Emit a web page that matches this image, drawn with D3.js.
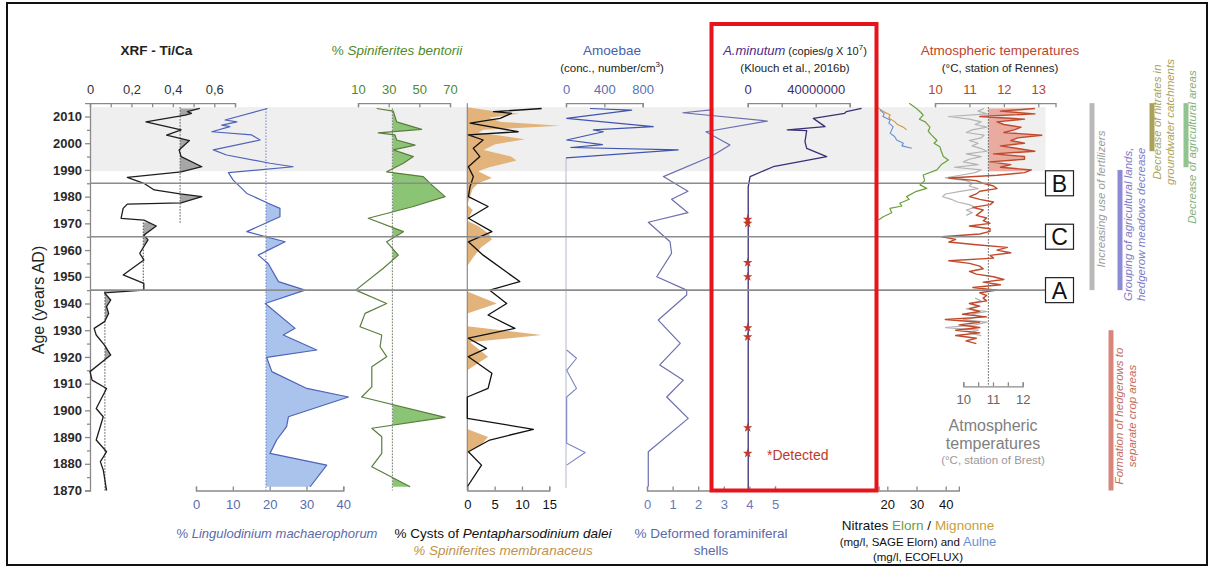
<!DOCTYPE html>
<html><head><meta charset="utf-8">
<script src="https://cdn.jsdelivr.net/npm/d3@7"></script>
<style>
body{margin:0;background:#fff;}
svg{display:block;font-family:"Liberation Sans",Arial,sans-serif;}
</style></head><body>
<svg id="chart" width="1214" height="570"></svg>
<script>
// ---- Data: [year AD, value] ----
const xrfTiCa = [[2013,0.53],[2011.8,0.47],[2011.2,0.49],[2010.5,0.46],[2008,0.27],[2005,0.44],[2003,0.37],[2001,0.48],[1997.5,0.43],[1995,0.44],[1991.2,0.54],[1989.3,0.44],[1987.2,0.18],[1985,0.26],[1982.5,0.31],[1981,0.435],[1980,0.54],[1977.7,0.44],[1977.2,0.18],[1975.6,0.16],[1971.9,0.15],[1971.2,0.26],[1969,0.32],[1965.6,0.26],[1963.8,0.28],[1958.8,0.24],[1956.3,0.26],[1950.7,0.16],[1947.5,0.26],[1945,0.26],[1944,0.07],[1941.3,0.1],[1938.8,0.08],[1936.3,0.09],[1933.2,0.07],[1930.7,0.02],[1928.2,0.03],[1924.4,0.07],[1920.7,0.1],[1914.5,0],[1911.3,0.01],[1908.2,0.08],[1900.7,0.03],[1897.6,0.064],[1888.9,0.03],[1884.5,0.08],[1880.8,0.05],[1877.7,0.064],[1870,0.08]];
// reference levels of the Ti/Ca record: [top year, bottom year, level]
const xrfRefs = [[2013.5,1969.8,0.435],[1970.3,1945,0.257],[1944.6,1870,0.072]];

const lingulodinium = [[2013,19.4],[2008.7,7.9],[2008,11.1],[2006.8,7],[2006.2,9.2],[2004.3,4.3],[2003.1,15.1],[2001.2,17.4],[1997.5,4.7],[1995.6,8.3],[1992.5,20.1],[1991.2,26.4],[1989,8.8],[1986.2,10.1],[1981.2,13.8],[1977.5,19.6],[1975.6,22.8],[1972.5,22.8],[1966.9,13.8],[1963.1,24.2],[1958.1,16.9],[1955,19.6],[1948.2,22.4],[1945,29.6],[1940,18.8],[1930.7,26.9],[1928.2,23.7],[1922.6,32.8],[1919.8,19.2],[1914.5,20.6],[1908.2,30.1],[1905,41.4],[1897.6,25.1],[1893.9,24.6],[1888.9,21.9],[1883.9,20.1],[1879.5,35.5],[1871.4,31]];
const lingulodiniumRef = 19;

const spinBentorii = [[2013,22.2],[2012,33],[2008,35.2],[2005.2,51.5],[2003.9,23.2],[2003.1,34.1],[2001.2,35.2],[1999.3,47.2],[1997.5,33],[1995,46.1],[1992.5,39.6],[1989.3,28.7],[1987.5,52.6],[1984.4,58.1],[1980,66.8],[1976.3,46.1],[1971.9,16.7],[1966.9,39.6],[1963.1,28.7],[1958.1,36.3],[1953.2,26.5],[1945,8.5],[1940,28.7],[1936.3,14.6],[1931.3,11.3],[1928.2,25.5],[1923.8,24.4],[1920.1,28.7],[1916.3,19],[1908.8,19],[1905,12.4],[1897.4,66.8],[1893.3,19],[1890.1,25.5],[1883.9,25.5],[1878.9,19],[1871.4,44]];
const spinBentoriiRef = 32.4;

const pentaDalei = [[2013,13.6],[2011.8,4.8],[2011.2,8.1],[2009.3,6],[2007.5,0.5],[2004.3,9.3],[2003.1,0.2],[2001.2,2.9],[1998.1,1.1],[1995,2.3],[1991.2,0.2],[1987.5,1.1],[1983.7,0.5],[1980,0.2],[1976.3,3.8],[1971.9,0.2],[1966.9,4.5],[1963.1,0.2],[1958.1,2.9],[1948.2,9.6],[1945,4.1],[1940,7.2],[1935.7,3.8],[1930.7,8.7],[1927,0.2],[1923.2,3.5],[1920.1,0.2],[1913.9,4.5],[1908.2,3.8],[1905,0],[1897,0],[1892.9,12.1],[1888.9,4.1],[1884.5,0.2],[1879.5,2.6],[1871.4,0]];
const spinMembranaceus = [[2013.5,0],[2013,1.5],[2012,5],[2011,9.5],[2009.5,4],[2008,6],[2006.5,17],[2005,3],[2004,2],[2001.5,10.5],[1999.5,5],[1997.5,3],[1995,8],[1993.5,9],[1991,4],[1989.5,2],[1987,4.5],[1985,2],[1983,1],[1980,0.5],[1977,0],[1975,1],[1973,0.5],[1971,0],[1969,2],[1966,4],[1964,4.5],[1961,2.5],[1957,1],[1954,0],[1944.5,0],[1940,5.4],[1936.3,0],[1931.5,0],[1928.2,13.6],[1925.5,0.5],[1920.1,3.8],[1915,0],[1893,0],[1890,3.8],[1887,2.5],[1884.5,0]];

const amoebae = [[2013,250],[2012.4,685],[2009.3,7],[2006.2,910],[2005,285],[2004.3,390],[2001.2,7],[1999.5,380],[1998.4,50],[1997.5,1170],[1994.5,0]];
const amoebaeOld = [[1922.6,7],[1919.5,110],[1915,7],[1908.2,110],[1905,7],[1887.7,7],[1884.2,200],[1879.5,7]];

const deformedForams = [[2012.6,2.6],[2011.4,1.4],[2008.3,4.7],[2004.3,2.3],[1999.3,3.24],[1995,2.5],[1987.5,0.64],[1982,1.6],[1979,0.96],[1974,1.6],[1970.4,0.05],[1963.1,0.9],[1958.8,0.96],[1950,0.38],[1945,1.55],[1943.2,1.55],[1933.8,0.44],[1925.1,1.3],[1917,0.5],[1911.3,1.42],[1905,0.77],[1897,1.61],[1884.5,0.05],[1871.4,0.05]];

const aMinutum = [[2013,67e6],[2011.8,58e6],[2011.2,57e6],[2009.3,38.6e6],[2006.2,45.5e6],[2005,23.3e6],[2004.7,34.7e6],[2000.6,33.7e6],[1998.1,34.7e6],[1995,46.5e6],[1991.2,15e6],[1987.5,1.4e6],[1983.7,0.3e6],[1870,0.3e6]];
const aMinutumDetected = [1971.5,1970,1955.3,1950,1930.9,1927.5,1893.5,1883.9];

const nitrateElorn = [[2015,27.5],[2013,30],[2011.5,31.5],[2010.5,32.3],[2009,31],[2008,33],[2006,34.6],[2004.5,34],[2003,35.2],[2001,37],[2000,36],[1998.7,38],[1997,38.5],[1995,39.2],[1993.7,40.9],[1992,38.5],[1990,37],[1988.1,32.3],[1986,32.8],[1984.4,31.2],[1983.1,33.5],[1982,30],[1980,26.6],[1979,27.5],[1977.5,24.3],[1976.5,25],[1975.6,20.9],[1974,21.5],[1972.5,18.6],[1971.3,17]];
const nitrateMignonne = [[2013.5,16.5],[2012,18.5],[2010.6,21],[2009.5,20.5],[2008,22.6],[2007,23.5],[2006,25.5],[2005,26.6]];
const nitrateAulne = [[2012.4,17.5],[2011,19],[2010,18.5],[2008.7,21],[2007.5,20.5],[2006.2,22],[2005,21.5],[2003.7,21],[2002.5,22.5],[2001.2,23.2],[2000,25.5],[1999,25],[1998.1,28.4]];

const rennesYears = d3.range(2013, 1924, -1);
const rennesTemp = [12.9,11.9,12.9,11.3,12.6,11.8,12.0,12.5,12.3,12.0,13.1,12.4,12.2,12.6,11.9,12.4,12.9,11.7,12.6,12.6,11.6,12.2,11.9,12.8,12.6,11.8,10.4,11.2,11.4,11.7,11.8,11.3,11.2,11.0,11.3,11.7,11.6,11.1,11.4,11.3,11.2,11.5,11.4,11.6,11.0,11.6,11.6,11.3,10.2,10.6,10.4,11.2,12.1,11.8,12.2,11.6,11.7,10.4,11.0,11.3,11.4,11.0,11.2,11.7,12.0,11.4,11.9,11.1,11.8,11.3,11.5,11.4,11.5,11.0,11.3,11.0,11.3,10.8,11.5,10.3,11.3,10.7,11.3,10.6,11.3,10.6,11.2,10.9,11.2];
const rennesRef = 11.55;
const brestYearsRecent = d3.range(2013, 1972, -1);
const brestTempRecent = [10.7,10.5,10.8,9.5,10.2,10.6,10.4,10.8,10.3,10.1,10.7,10.6,10.2,10.5,10.3,10.6,10.8,10.1,10.6,10.2,10.0,10.5,9.7,10.6,10.4,9.9,9.4,10.1,10.3,10.2,10.5,9.9,9.4,9.3,9.6,9.8,10.2,10.4,10.1,10.3,10.1];
const brestYearsOld = d3.range(1942, 1927, -1);
const brestTempOld = [10.4,10.6,10.2,10.5,10.1,10.8,10.3,10.6,10.0,10.8,10.4,9.4,10.5,10.2,10.6];

const yearTicks = d3.range(1870, 2011, 10);
const eventLines = [["B",1985],["C",1965],["A",1945]];
const recentBand = [2013.5, 1989.5];

// annotation bars: label lines, period covered, colours, text placement
const annotations = [
  {lines:["Increasing use of fertilizers"], top:2015, bottom:1945, bar:"#b9b9b9", text:"#9a9a9a", x:1092, tx:1105, anchor:"middle", ty:199},
  {lines:["Grouping of agricultural lands,","hedgerow meadows decrease"], top:1990, bottom:1945, bar:"#8d8bd6", text:"#7c79c6", x:1120, tx:1132, anchor:"start", ty:301},
  {lines:["Decrease of nitrates in","groundwater catchments"], top:2015, bottom:1997, bar:"#a9a25a", text:"#aaa35a", x:1152, tx:1161, anchor:"middle", ty:122},
  {lines:["Decrease of agricultural areas"], top:2015, bottom:1991, bar:"#90c490", text:"#80b080", x:1186, tx:1196, anchor:"middle", ty:147},
  {lines:["Formation of hedgerows to","separate crop areas"], top:1930, bottom:1870, bar:"#d8857c", text:"#c26c60", x:1111, tx:1123, anchor:"middle", ty:416}
];

// ---- Layout ----
const svg = d3.select("#chart");
const W = 1214, H = 570;
const y = d3.scaleLinear().domain([1870, 2010]).range([490.5, 116.5]);
const axisGrey = "#8a8a8a";

const xXrf = d3.scaleLinear().domain([0, 0.7]).range([90, 235]);
const xLing = d3.scaleLinear().domain([0, 40]).range([196, 343.3]);
const xSpB = d3.scaleLinear().domain([10, 70]).range([358, 450]);
const xPent = d3.scaleLinear().domain([0, 15]).range([467.3, 549.3]);
const xAmo = d3.scaleLinear().domain([0, 800]).range([566, 642.7]);
const xFor = d3.scaleLinear().domain([0, 5]).range([647, 775]);
const xAmin = d3.scaleLinear().domain([0, 60e6]).range([747.7, 849.7]);
const xNit = d3.scaleLinear().domain([20, 40]).range([887.3, 945.7]);
const xRen = d3.scaleLinear().domain([10, 13]).range([935, 1038.3]);
const xBre = d3.scaleLinear().domain([10, 12]).range([963.3, 1022.7]);
const brestAxisYear = 1909;

const defs = svg.append("defs");
const lineOf = xs => d3.line().x(d => xs(d[1])).y(d => y(d[0]));
let clipId = 0;
function fillBeyond(data, xs, ref, yearTop, yearBottom, color) {
  const id = "clip" + (clipId++);
  defs.append("clipPath").attr("id", id).append("rect")
    .attr("x", xs(ref)).attr("y", y(yearTop))
    .attr("width", W).attr("height", y(yearBottom) - y(yearTop));
  svg.append("path").datum(data)
    .attr("d", d3.area().y(d => y(d[0])).x0(xs(ref)).x1(d => xs(d[1])))
    .attr("fill", color).attr("clip-path", `url(#${id})`);
}
function dotted(x, yearTop, yearBottom, color) {
  svg.append("line").attr("x1", x).attr("x2", x)
    .attr("y1", y(yearTop)).attr("y2", y(yearBottom))
    .attr("stroke", color || "#666").attr("stroke-width", 1).attr("stroke-dasharray", "1.5,1.5");
}
function drawLine(data, xs, color, width) {
  svg.append("path").datum(data).attr("d", lineOf(xs))
    .attr("fill", "none").attr("stroke", color).attr("stroke-width", width || 1.2)
    .attr("stroke-linejoin", "round");
}
function styleAxis(g, color) {
  g.select(".domain").attr("stroke", axisGrey).attr("stroke-width", 1.3);
  g.selectAll(".tick line").attr("stroke", axisGrey).attr("stroke-width", 1.3);
  g.selectAll(".tick text").attr("fill", color).attr("font-size", 13).attr("font-family", "Liberation Sans, Arial, sans-serif");
  return g;
}
function text(x, yy, str, opts) {
  opts = opts || {};
  return svg.append("text").attr("x", x).attr("y", yy).text(str)
    .attr("text-anchor", opts.anchor || "middle")
    .attr("font-size", opts.size || 13)
    .attr("font-style", opts.italic ? "italic" : null)
    .attr("font-weight", opts.bold ? "bold" : null)
    .attr("fill", opts.color || "#222");
}

// ---- Recent-period band ----
svg.append("rect").attr("x", 90).attr("y", y(recentBand[0]))
  .attr("width", 1045.5 - 90).attr("height", y(recentBand[1]) - y(recentBand[0]))
  .attr("fill", "#efefef");

// ---- Age axis ----
const yAxisScale = y.copy().domain([1870, 2015]).range([y(1870), y(2015)]);
const yAx = svg.append("g").attr("transform", "translate(90,0)")
  .call(d3.axisLeft(yAxisScale).tickValues(yearTicks).tickFormat(d3.format("d")).tickSize(5).tickPadding(3));
styleAxis(yAx, "#2a2a2a");
yAx.selectAll(".tick text").attr("font-weight", "bold").attr("font-size", 13);
svg.append("g").attr("transform", "translate(90,0)")
  .call(d3.axisLeft(yAxisScale).tickValues(d3.range(1875, 2015, 10)).tickFormat("").tickSize(3))
  .call(g => { g.select(".domain").remove(); g.selectAll("line").attr("stroke", axisGrey).attr("stroke-width", 1.3); });
text(0, 0, "Age (years AD)", {size: 16}).attr("transform", "translate(44,300) rotate(-90)");

// ---- XRF Ti/Ca ----
xrfRefs.forEach(r => fillBeyond(xrfTiCa, xXrf, r[2], r[0], r[1], "#a6a6a6"));
xrfRefs.forEach(r => dotted(xXrf(r[2]), r[0], r[1], "#555"));
drawLine(xrfTiCa, xXrf, "#1e1e1e", 1.3);
const xrfAx = svg.append("g").attr("transform", `translate(0,${y(2015)})`)
  .call(d3.axisTop(xXrf).tickValues(d3.range(0, 0.71, 0.1)).tickSize(-4)
    .tickFormat(d => (Math.round(d * 10) % 2 === 0) ? (d === 0 ? "0" : d3.format(".1f")(d).replace(".", ",")) : "").tickPadding(9));
styleAxis(xrfAx, "#333");
text(xXrf(0.32), 55, "XRF - Ti/Ca", {size: 13.5, bold: true, color: "#222"});

// ---- Lingulodinium machaerophorum ----
fillBeyond(lingulodinium, xLing, lingulodiniumRef, 1989.5, 1870, "#a9c3ec");
dotted(xLing(lingulodiniumRef), 2013, 1870, "#7080c0");
drawLine(lingulodinium, xLing, "#5063b8", 1.2);
const lingAx = svg.append("g").attr("transform", `translate(0,${y(1870)})`)
  .call(d3.axisBottom(xLing).ticks(4).tickSize(-4).tickPadding(9));
styleAxis(lingAx, "#5a6aaa");
const lingT = text(xLing(22), 538, "", {color: "#5a6aaa"});
lingT.append("tspan").text("% ");
lingT.append("tspan").text("Lingulodinium machaerophorum").attr("font-style", "italic");

// ---- Spiniferites bentorii ----
fillBeyond(spinBentorii, xSpB, spinBentoriiRef, 2013.5, 1870, "#8cc476");
dotted(xSpB(spinBentoriiRef), 2013, 1870, "#777");
drawLine(spinBentorii, xSpB, "#5a7d3c", 1.2);
const spbAx = svg.append("g").attr("transform", `translate(0,${y(2015)})`)
  .call(d3.axisTop(xSpB).tickValues([10, 30, 50, 70]).tickSize(-4).tickPadding(9));
styleAxis(spbAx, "#4f8a2a");
const spbT = text(397, 55, "", {color: "#4f8a2a", size: 13.5});
spbT.append("tspan").text("% ");
spbT.append("tspan").text("Spiniferites bentorii").attr("font-style", "italic");

// ---- Pentapharsodinium dalei / Spiniferites membranaceus ----
svg.append("path").datum(spinMembranaceus)
  .attr("d", d3.area().y(d => y(d[0])).x0(xPent(0)).x1(d => xPent(d[1])))
  .attr("fill", "#e2b47c");
svg.append("line").attr("x1", xPent(0)).attr("x2", xPent(0)).attr("y1", y(2015)).attr("y2", y(1870))
  .attr("stroke", axisGrey).attr("stroke-width", 1.2);
drawLine(pentaDalei, xPent, "#111", 1.3);
const pentAx = svg.append("g").attr("transform", `translate(0,${y(1870)})`)
  .call(d3.axisBottom(xPent).tickValues([0, 5, 10, 15]).tickSize(-4).tickPadding(9));
styleAxis(pentAx, "#111");
const pT = text(503, 538, "", {color: "#111", size: 13.5});
pT.append("tspan").text("% Cysts of ");
pT.append("tspan").text("Pentapharsodinium dalei").attr("font-style", "italic");
text(503, 555, "% Spiniferites membranaceus", {color: "#c0924a", italic: true, size: 13.5});

// ---- Amoebae ----
svg.append("line").attr("x1", xAmo(0)).attr("x2", xAmo(0)).attr("y1", y(1994.5)).attr("y2", y(1871))
  .attr("stroke", "#b8b8c8").attr("stroke-width", 1);
drawLine(amoebae, xAmo, "#3f56b0", 1.2);
drawLine(amoebaeOld, xAmo, "#7a86c0", 1.1);
const amoAx = svg.append("g").attr("transform", `translate(0,${y(2015)})`)
  .call(d3.axisTop(xAmo).tickValues([0, 400, 800]).tickSize(-4).tickPadding(9));
styleAxis(amoAx, "#5a6fb5");
text(xAmo(480), 55, "Amoebae", {color: "#4a5ea8", size: 13.5});
const amoSub = text(xAmo(480), 72, "(conc., number/cm", {color: "#222", size: 11.5});
amoSub.append("tspan").text("3").attr("dy", -5).attr("font-size", 8);
amoSub.append("tspan").text(")").attr("dy", 5);

// ---- Deformed foraminiferal shells ----
drawLine(deformedForams, xFor, "#6a6fae", 1.2);
const forAx = svg.append("g").attr("transform", `translate(0,${y(1870)})`)
  .call(d3.axisBottom(xFor).ticks(5).tickSize(-4).tickPadding(9));
styleAxis(forAx, "#6a78b8");
text(711, 538, "% Deformed foraminiferal", {color: "#5a6aaa", size: 13.5});
text(711, 555, "shells", {color: "#5a6aaa", size: 13.5});

// ---- Alexandrium minutum ----
drawLine(aMinutum, xAmin, "#3d2d78", 1.3);
svg.selectAll(".star").data(aMinutumDetected).enter().append("path")
  .attr("d", d3.symbol().type(d3.symbolStar).size(28))
  .attr("transform", d => `translate(${xAmin(0)},${y(d)})`)
  .attr("fill", "#c0392b");
const aminAx = svg.append("g").attr("transform", `translate(0,${y(2015)})`)
  .call(d3.axisTop(xAmin).tickValues([0, 20e6, 40e6, 60e6]).tickSize(-4).tickPadding(9)
    .tickFormat(d => (d === 0 || d === 40e6) ? d3.format("d")(d) : ""));
styleAxis(aminAx, "#3d2d6b");
const aminT = text(795, 55, "", {size: 13});
aminT.append("tspan").text("A.minutum").attr("font-style", "italic").attr("fill", "#4a2a8a");
aminT.append("tspan").text(" (copies/g X 10").attr("font-size", 11).attr("fill", "#222");
aminT.append("tspan").text("7").attr("font-size", 8).attr("dy", -5).attr("fill", "#222");
aminT.append("tspan").text(")").attr("font-size", 11).attr("dy", 5).attr("fill", "#222");
text(795, 72, "(Klouch et al., 2016b)", {size: 11.5});
text(767, 460, "*Detected", {anchor: "start", color: "#c0392b", size: 14});

// ---- Nitrates ----
drawLine(nitrateElorn, xNit, "#6aa03c", 1.2);
drawLine(nitrateMignonne, xNit, "#d4952e", 1.1);
drawLine(nitrateAulne, xNit, "#6a8ed4", 1.1);
const nitScale = xNit.copy().domain([17, 44.5]).range([xNit(17), xNit(44.5)]);
const nitAx = svg.append("g").attr("transform", `translate(0,${y(1870)})`)
  .call(d3.axisBottom(nitScale).tickValues([20, 30, 40]).tickSize(-4).tickPadding(9));
styleAxis(nitAx, "#111");
const n1 = text(918, 530, "", {size: 13.5, color: "#111"});
n1.append("tspan").text("Nitrates ");
n1.append("tspan").text("Elorn").attr("fill", "#6aa03c");
n1.append("tspan").text(" / ");
n1.append("tspan").text("Mignonne").attr("fill", "#c9a03a");
const n2 = text(918, 546, "", {size: 11.5, color: "#111"});
n2.append("tspan").text("(mg/l, SAGE Elorn) and ");
n2.append("tspan").text("Aulne").attr("fill", "#6a8ed4").attr("font-size", 13);
text(918, 561, "(mg/l, ECOFLUX)", {size: 11.5, color: "#111"});

// ---- Atmospheric temperatures ----
const rennes = rennesYears.map((yr, i) => [yr, rennesTemp[i]]);
const brestRecent = brestYearsRecent.map((yr, i) => [yr, brestTempRecent[i]]);
const brestOld = brestYearsOld.map((yr, i) => [yr, brestTempOld[i]]);
fillBeyond(rennes, xRen, rennesRef, 2013.5, 1989.5, "#e9aaa0");
drawLine(brestRecent, xBre, "#b4b4b4", 1.2);
drawLine(brestOld, xBre, "#b4b4b4", 1.2);
dotted(xRen(rennesRef), 2013.5, brestAxisYear, "#555");
drawLine(rennes, xRen, "#c04a2c", 1.4);
const renScale = xRen.copy().domain([10, 13.5]).range([xRen(10), xRen(13.5)]);
const renAx = svg.append("g").attr("transform", `translate(0,${y(2015)})`)
  .call(d3.axisTop(renScale).tickValues([10, 11, 12, 13]).tickFormat(d3.format("d")).tickSize(-4).tickPadding(9));
styleAxis(renAx, "#b5452b");
text(1000, 55, "Atmospheric temperatures", {color: "#c0452a", size: 13.5});
text(1000, 72, "(°C, station of Rennes)", {size: 11.5});
const breAx = svg.append("g").attr("transform", `translate(0,${y(brestAxisYear)})`)
  .call(d3.axisBottom(xBre).tickValues(d3.range(10, 12.01, 0.5)).tickSize(-4).tickPadding(8)
    .tickFormat(d => Number.isInteger(d) ? d : ""));
styleAxis(breAx, "#666");
text(993, 431, "Atmospheric", {color: "#808080", size: 16});
text(993, 449, "temperatures", {color: "#808080", size: 16});
text(993, 464, "(°C, station of Brest)", {color: "#999", size: 11.5});

// ---- Event horizons B, C, A ----
eventLines.forEach(([lab, yr]) => {
  svg.append("line").attr("x1", 90).attr("x2", 1045.5).attr("y1", y(yr)).attr("y2", y(yr))
    .attr("stroke", "#8c8c8c").attr("stroke-width", 1.6);
  svg.append("rect").attr("x", 1045.5).attr("y", y(yr) - 12.5).attr("width", 28).attr("height", 25)
    .attr("fill", "#fff").attr("stroke", "#222").attr("stroke-width", 1.2);
  text(1059.5, y(yr) + 8.5, lab, {size: 23, color: "#111"});
});

// ---- Historical context bars ----
annotations.forEach(a => {
  svg.append("rect").attr("x", a.x - 2.5).attr("y", y(a.top)).attr("width", 5)
    .attr("height", y(a.bottom) - y(a.top)).attr("fill", a.bar);
  a.lines.forEach((ln, i) => {
    svg.append("text").attr("transform", `translate(${a.tx + i * 13},${a.ty}) rotate(-90)`)
      .attr("text-anchor", a.anchor).attr("font-size", 11.5).attr("font-style", "italic")
      .attr("fill", a.text).text(ln);
  });
});

// ---- Highlight frame around the A. minutum record ----
svg.append("rect").attr("x", 711.5).attr("y", 24).attr("width", 165).attr("height", y(1870) - 24)
  .attr("fill", "none").attr("stroke", "#e8141b").attr("stroke-width", 4);

// ---- Figure frame ----
svg.append("rect").attr("x", 7).attr("y", 3).attr("width", 1200).attr("height", 562)
  .attr("fill", "none").attr("stroke", "#111").attr("stroke-width", 2);
</script></body></html>
